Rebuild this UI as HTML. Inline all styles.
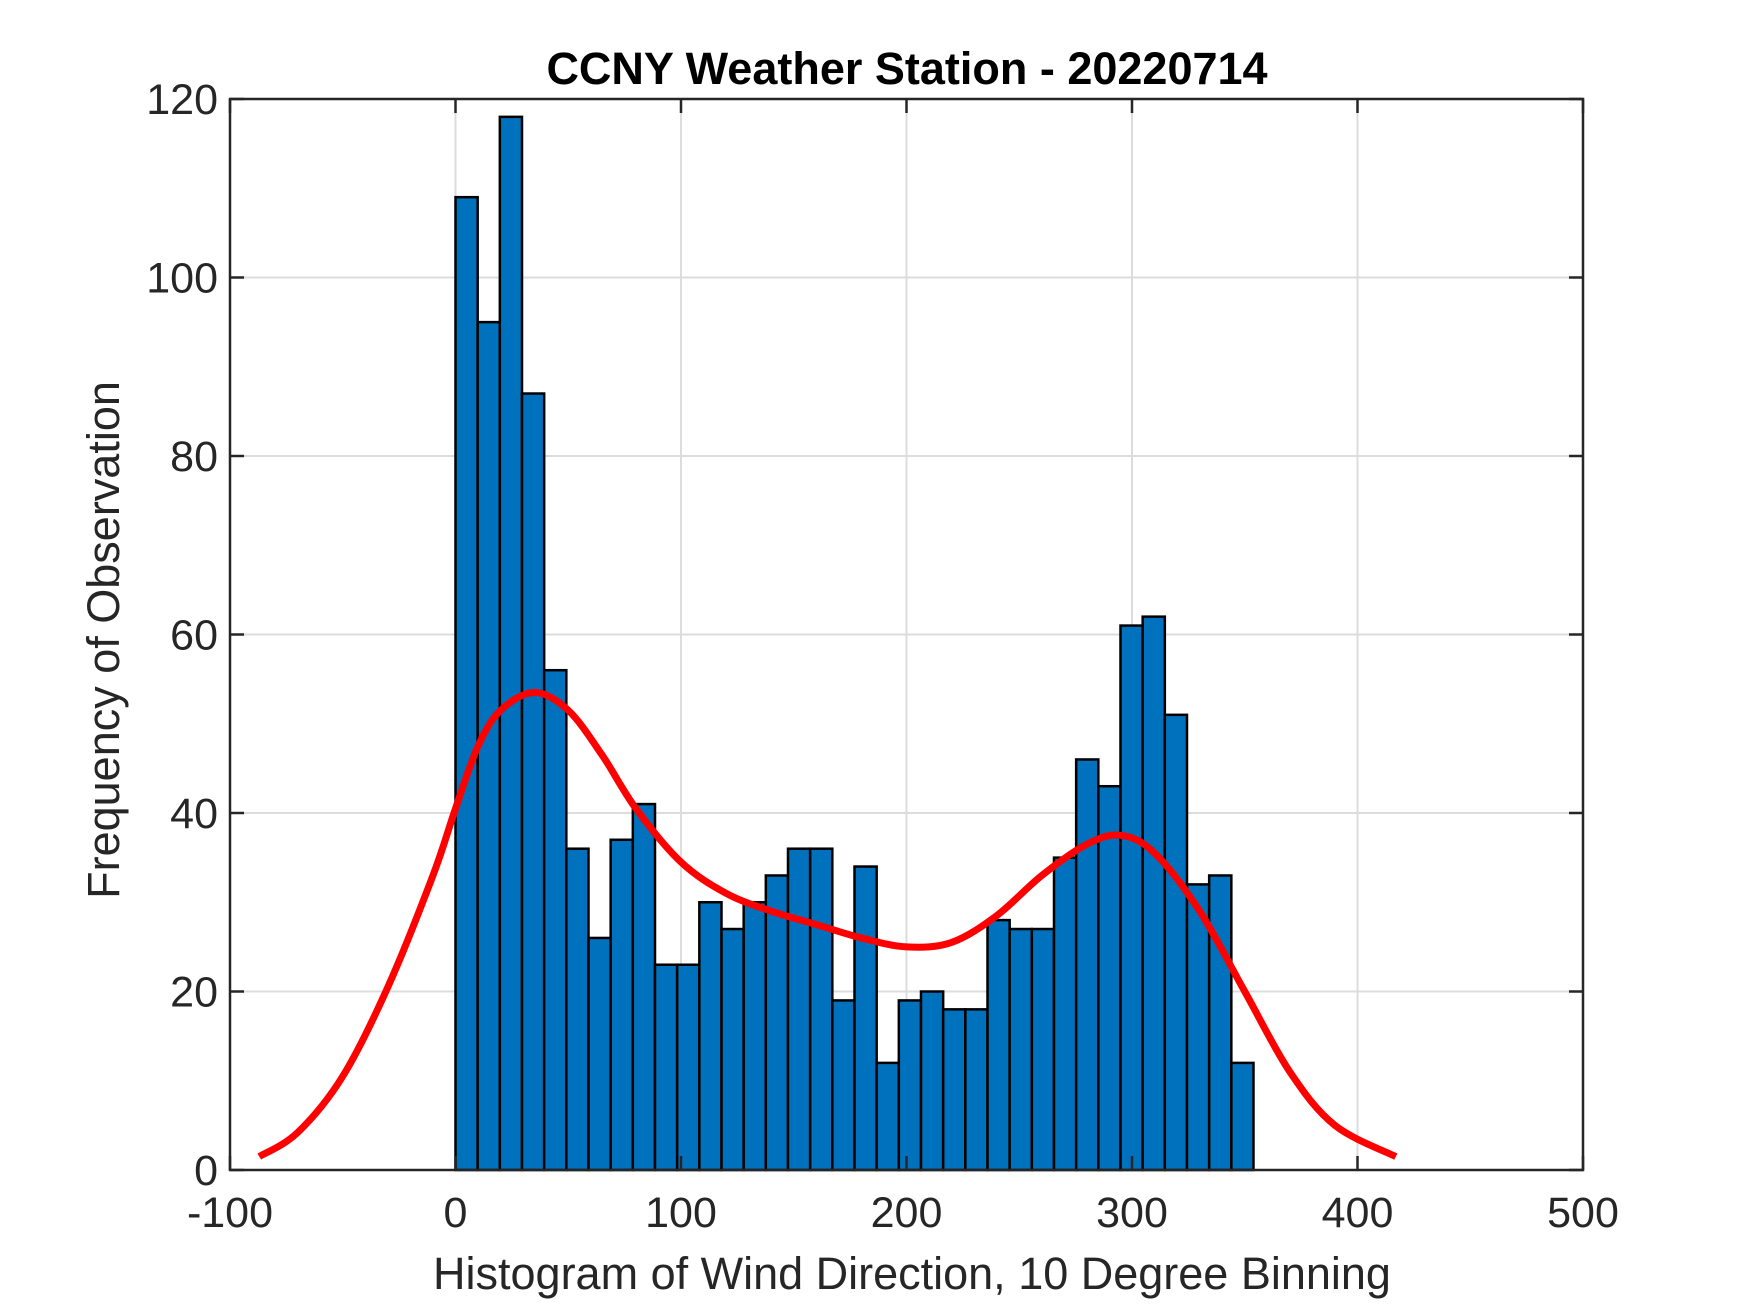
<!DOCTYPE html>
<html><head><meta charset="utf-8"><style>
html,body{margin:0;padding:0;background:#fff;}
svg{display:block;font-family:"Liberation Sans",Arial,sans-serif;}
</style></head><body>
<svg id="chart" width="1750" height="1313" viewBox="0 0 1750 1313" xmlns="http://www.w3.org/2000/svg">
<rect x="0" y="0" width="1750" height="1313" fill="#fff"/>
<g id="grid"></g>
<g id="bars"></g>
<g id="curve"></g>
<g id="axes"></g>
<text x="907" y="84" text-anchor="middle" font-size="45" font-weight="bold" fill="#000">CCNY Weather Station - 20220714</text>
<text x="912" y="1289" text-anchor="middle" font-size="45" fill="#262626">Histogram of Wind Direction, 10 Degree Binning</text>
<text transform="translate(119,640) rotate(-90)" text-anchor="middle" font-size="45" fill="#262626">Frequency of Observation</text>
</svg>
<script>
const binStart = 0;
const binWidth = 9.83;
const counts = [109,95,118,87,56,36,26,37,41,23,23,30,27,30,33,36,36,19,34,12,19,20,18,18,28,27,27,35,46,43,61,62,51,32,33,12];
const curveX = [-87,-70,-50,-30,-10,0,10,20,35,50,65,80,100,120,140,160,180,200,220,240,260,280,295,310,330,350,370,390,417];
const curveY = [1.5,4.2,10.5,20.5,33,40.5,47.5,51.5,53.5,51.5,46.5,40.5,34.5,31,29,27.5,26,25,25.5,28.5,33,36.5,37.5,35.5,29,20,11,5,1.5];
const xTicks = [-100,0,100,200,300,400,500];
const yTicks = [0,20,40,60,80,100,120];

const L=230,R=1583,T=99,B=1170;
const xMin=-100,xMax=500,yMin=0,yMax=120;
const sx=v=>L+(v-xMin)/(xMax-xMin)*(R-L);
const sy=v=>B-(v-yMin)/(yMax-yMin)*(B-T);
const NS="http://www.w3.org/2000/svg";
function mk(tag,attrs,parent){const e=document.createElementNS(NS,tag);for(const k in attrs)e.setAttribute(k,attrs[k]);parent.appendChild(e);return e;}
const grid=document.getElementById('grid'),bars=document.getElementById('bars'),curve=document.getElementById('curve'),axes=document.getElementById('axes');

xTicks.forEach(t=>{
  const g=mk('line',{x1:sx(t),x2:sx(t),y1:T,y2:B,stroke:'#dcdcdc','stroke-width':2},grid);
  
  
});
yTicks.forEach(t=>{
  const g=mk('line',{x1:L,x2:R,y1:sy(t),y2:sy(t),stroke:'#dcdcdc','stroke-width':2},grid);
  
  
});

counts.forEach((c,i)=>{
  const x0=sx(binStart+i*binWidth),x1=sx(binStart+(i+1)*binWidth);
  const r=mk('rect',{x:x0,y:sy(c),width:x1-x0,height:sy(0)-sy(c),fill:'#0072bd',stroke:'#000','stroke-width':2.5},bars);
  
  
});

const pts=curveX.map((x,i)=>[sx(x),sy(curveY[i])]);
let d='M'+pts[0][0]+','+pts[0][1];
for(let i=0;i<pts.length-1;i++){
  const p0=pts[Math.max(i-1,0)],p1=pts[i],p2=pts[i+1],p3=pts[Math.min(i+2,pts.length-1)];
  const c1=[p1[0]+(p2[0]-p0[0])/6,p1[1]+(p2[1]-p0[1])/6];
  const c2=[p2[0]-(p3[0]-p1[0])/6,p2[1]-(p3[1]-p1[1])/6];
  d+=' C'+c1[0]+','+c1[1]+' '+c2[0]+','+c2[1]+' '+p2[0]+','+p2[1];
}
const pth=mk('path',{d:d,fill:'none',stroke:'#ff0000','stroke-width':7,'stroke-linejoin':'round'},curve);



const box=mk('rect',{x:L,y:T,width:R-L,height:B-T,fill:'none',stroke:'#262626','stroke-width':2.5},axes);


xTicks.forEach(t=>{
  const x=sx(t);
  mk('line',{x1:x,x2:x,y1:B,y2:B-14,stroke:'#262626','stroke-width':2.5},axes);
  mk('line',{x1:x,x2:x,y1:T,y2:T+14,stroke:'#262626','stroke-width':2.5},axes);
  const tx=mk('text',{x:x,y:B+57,'text-anchor':'middle','font-size':43,fill:'#262626'},axes);
  tx.textContent=t;
  
  
});
yTicks.forEach(t=>{
  const y=sy(t);
  mk('line',{x1:L,x2:L+14,y1:y,y2:y,stroke:'#262626','stroke-width':2.5},axes);
  mk('line',{x1:R,x2:R-14,y1:y,y2:y,stroke:'#262626','stroke-width':2.5},axes);
  const tx=mk('text',{x:L-12,y:y+15,'text-anchor':'end','font-size':43,fill:'#262626'},axes);
  tx.textContent=t;
  
  
});
</script>
</body></html>
